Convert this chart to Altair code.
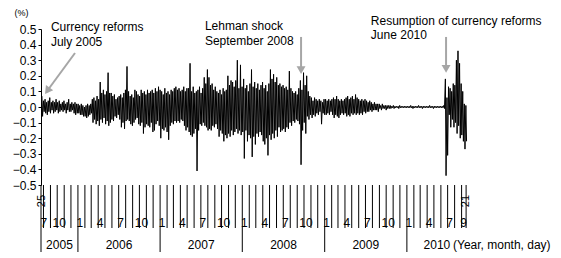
import altair as alt
import pandas as pd

# ---- weekly high / low of the daily change (%) ----
hi_2005 = [0.07, 0.04, 0.05, 0.03, 0.04, 0.06, 0.03, 0.04, 0.03, 0.05, 0.03, 0.04,
           0.02, 0.03, 0.04, 0.02, 0.03, 0.05, 0.02, 0.03, 0.02, 0.03, 0.02]
lo_2005 = [-0.06, -0.03, -0.04, -0.05, -0.03, -0.04, -0.02, -0.04, -0.03, -0.02, -0.04, -0.03,
           -0.02, -0.03, -0.02, -0.04, -0.02, -0.03, -0.03, -0.02, -0.04, -0.05, -0.04]

hi_2006 = [0.02, 0.01, 0.02, 0.01, 0.00, 0.01, 0.02, 0.01, 0.02,
           0.05, 0.06, 0.04, 0.07, 0.05, 0.16, 0.09, 0.11, 0.08, 0.10, 0.22, 0.09,
           0.09, 0.07, 0.08, 0.05, 0.06, 0.07, 0.08, 0.06, 0.09, 0.11, 0.26, 0.10,
           0.07, 0.08, 0.06, 0.11, 0.10, 0.08, 0.07, 0.11, 0.09, 0.10, 0.08, 0.11,
           0.09, 0.10, 0.11, 0.09, 0.12, 0.10, 0.13]
lo_2006 = [-0.04, -0.05, -0.05, -0.06, -0.06, -0.07, -0.06, -0.05, -0.04,
           -0.10, -0.08, -0.11, -0.09, -0.12, -0.08, -0.10, -0.07, -0.11, -0.09, -0.12, -0.10,
           -0.08, -0.09, -0.06, -0.07, -0.05, -0.08, -0.13, -0.10, -0.14, -0.09, -0.08, -0.09,
           -0.11, -0.12, -0.10, -0.08, -0.07, -0.11, -0.12, -0.10, -0.17, -0.13, -0.11, -0.12,
           -0.13, -0.10, -0.16, -0.15, -0.11, -0.09, -0.12]

hi_2007 = [0.11, 0.10, 0.08, 0.12, 0.09, 0.10, 0.08, 0.11, 0.10, 0.12, 0.13, 0.11,
           0.12, 0.10, 0.11, 0.13, 0.10, 0.12, 0.12, 0.28, 0.10, 0.13, 0.09, 0.10,
           0.11, 0.13, 0.09, 0.12, 0.19, 0.15, 0.24, 0.19, 0.14, 0.15, 0.11, 0.13,
           0.10, 0.09, 0.11, 0.08, 0.12, 0.10, 0.11, 0.20, 0.14, 0.17, 0.16, 0.13,
           0.17, 0.30, 0.12, 0.27, 0.13]
lo_2007 = [-0.20, -0.14, -0.15, -0.13, -0.16, -0.21, -0.12, -0.10, -0.11, -0.09, -0.10, -0.09,
           -0.10, -0.08, -0.09, -0.12, -0.15, -0.13, -0.16, -0.18, -0.19, -0.17, -0.14, -0.41,
           -0.15, -0.11, -0.12, -0.10, -0.12, -0.13, -0.15, -0.14, -0.15, -0.12, -0.13, -0.11,
           -0.14, -0.19, -0.15, -0.17, -0.22, -0.18, -0.20, -0.17, -0.19, -0.15, -0.18, -0.16,
           -0.14, -0.17, -0.15, -0.18, -0.16]

hi_2008 = [0.18, 0.12, 0.14, 0.10, 0.15, 0.24, 0.13, 0.16, 0.12, 0.15, 0.11, 0.14,
           0.16, 0.12, 0.14, 0.10, 0.15, 0.24, 0.18, 0.21, 0.16, 0.19, 0.14, 0.15,
           0.13, 0.14, 0.12, 0.13, 0.11, 0.23, 0.12, 0.10, 0.09, 0.10, 0.08, 0.12,
           0.17, 0.11, 0.22, 0.14, 0.20, 0.10, 0.07, 0.06, 0.04, 0.06, 0.05, 0.04,
           0.05, 0.04, 0.03, 0.05]
lo_2008 = [-0.33, -0.15, -0.22, -0.18, -0.20, -0.32, -0.19, -0.24, -0.17, -0.19, -0.16, -0.18,
           -0.22, -0.24, -0.20, -0.31, -0.18, -0.21, -0.17, -0.20, -0.15, -0.19, -0.13, -0.16,
           -0.15, -0.14, -0.16, -0.13, -0.14, -0.10, -0.12, -0.09, -0.10, -0.08, -0.09, -0.11,
           -0.37, -0.15, -0.10, -0.17, -0.06, -0.08, -0.05, -0.07, -0.05, -0.06, -0.04, -0.05,
           -0.03, -0.11, -0.04, -0.05]

hi_2009 = [0.05, 0.04, 0.05, 0.04, 0.05, 0.06, 0.05, 0.07, 0.05, 0.04, 0.05, 0.04,
           0.05, 0.06, 0.07, 0.05, 0.06, 0.07, 0.05, 0.08, 0.06, 0.05, 0.04, 0.05,
           0.04, 0.05, 0.04, 0.03, 0.04, 0.03, 0.02, 0.03, 0.02, 0.02, 0.02, 0.01,
           0.02, 0.01, 0.01, 0.01, 0.01, 0.01, 0.005, 0.01, 0.005, 0.005, 0.005, 0.01,
           0.005, 0.005, 0.005, 0.005]
lo_2009 = [-0.05, -0.04, -0.05, -0.03, -0.05, -0.07, -0.05, -0.06, -0.07, -0.05, -0.04, -0.05,
           -0.04, -0.06, -0.05, -0.06, -0.04, -0.05, -0.04, -0.05, -0.04, -0.05, -0.04, -0.05,
           -0.03, -0.04, -0.03, -0.03, -0.02, -0.03, -0.02, -0.02, -0.02, -0.03, -0.01, -0.02,
           -0.01, -0.01, -0.02, -0.01, -0.01, -0.01, -0.005, -0.01, -0.005, -0.005, -0.01, -0.005,
           -0.005, -0.005, -0.005, -0.005]

hi_2010 = [0.005, 0.005, 0.01, 0.005, 0.005, 0.005, 0.005, 0.01, 0.005, 0.005, 0.005, 0.005,
           0.005, 0.005, 0.01, 0.005, 0.005, 0.005, 0.005, 0.005, 0.005, 0.005, 0.005,
           0.01, 0.18, 0.06, 0.13, 0.12, 0.10, 0.15, 0.14, 0.30, 0.36, 0.28, 0.15, 0.10, 0.02, 0.01]
lo_2010 = [-0.005, -0.005, -0.005, -0.01, -0.005, -0.005, -0.005, -0.005, -0.005, -0.01, -0.005, -0.005,
           -0.005, -0.005, -0.005, -0.005, -0.01, -0.005, -0.005, -0.005, -0.005, -0.005, -0.005,
           -0.01, -0.44, -0.31, -0.05, -0.13, -0.08, -0.13, -0.10, -0.17, -0.12, -0.20, -0.18, -0.22, -0.27, -0.22]

y_ticks = [-0.5, -0.4, -0.3, -0.2, -0.1, 0.0, 0.1, 0.2, 0.3, 0.4, 0.5]
label_months = [1, 4, 7, 10]
first_day_label = "25"
last_day_label = "21"
year_names = ["2005", "2006", "2007", "2008", "2009", "2010"]

ann_texts = ["Currency reforms", "July 2005", "Lehman shock", "September 2008",
             "Resumption of currency reforms", "June 2010"]

# ---- build tables ----
hi = hi_2005 + hi_2006 + hi_2007 + hi_2008 + hi_2009 + hi_2010
lo = lo_2005 + lo_2006 + lo_2007 + lo_2008 + lo_2009 + lo_2010
assert len(hi) == len(lo) == 270
weeks = pd.date_range("2005-07-25", periods=len(hi), freq="7D")
rows = []
for d, h, l in zip(weeks, hi, lo):
    rows.append({"date": d, "value": h})
    rows.append({"date": d + pd.Timedelta(days=3), "value": l})
series = pd.DataFrame(rows)

first_day = pd.Timestamp("2005-07-25")
last_day = pd.Timestamp("2010-09-21")
axis_start = pd.Timestamp("2005-07-21")
axis_end = pd.Timestamp("2010-09-25")

month_starts = pd.date_range("2005-08-01", "2010-09-01", freq="MS")
short_ticks = pd.DataFrame({"date": [m for m in month_starts if m.month != 1] + [last_day]})
year_starts = [pd.Timestamp(f"{y}-01-01") for y in range(2006, 2011)]
long_ticks = pd.DataFrame({"date": [axis_start] + year_starts})

mlab = [(first_day, "7")] + [(m, str(m.month)) for m in month_starts if m.month in label_months]
mlab.append((pd.Timestamp("2010-09-01"), "9"))
month_labels = pd.DataFrame(mlab, columns=["date", "text"])

bounds = [axis_start] + year_starts + [axis_end]
year_labels = pd.DataFrame({
    "date": [bounds[i] + (bounds[i + 1] - bounds[i]) / 2 for i in range(len(year_names))],
    "text": year_names,
})
day_labels = pd.DataFrame({"date": [first_day, last_day], "text": [first_day_label, last_day_label]})

ann = pd.DataFrame({
    "date": pd.to_datetime(["2005-09-03", "2005-09-03", "2007-07-19", "2007-07-19",
                            "2009-07-25", "2009-07-25"]),
    "value": [0.485, 0.391, 0.492, 0.396, 0.524, 0.438],
    "text": ann_texts,
})
arrows = pd.DataFrame({
    "date": pd.to_datetime(["2005-12-19", "2008-09-18", "2010-06-24"]),
    "value": [0.346, 0.449, 0.449],
    "date2": pd.to_datetime(["2005-08-18", "2008-09-18", "2010-06-24"]),
    "value2": [0.104, 0.237, 0.244],
    "angle": [35.5, 0.0, 0.0],
})

# ---- chart ----
FONT = "Liberation Sans"
H = 156
xscale = alt.Scale(domain=[alt.DateTime(year=2005, month=7, date=21),
                           alt.DateTime(year=2010, month=9, date=25)])
yscale = alt.Scale(domain=[-0.5, 0.5], nice=False, zero=False)
yaxis = alt.Axis(
    values=y_ticks, format=".1f", tickSize=3, labelPadding=2, grid=False,
    domainColor="black", tickColor="black", labelColor="black",
    labelFont=FONT, labelFontSize=12, labelOverlap=False, labelFlush=False,
    title="(%)", titleAngle=0, titleX=-20, titleY=-17, titleAlign="center",
    titleBaseline="middle", titleFont=FONT, titleFontSize=9,
    titleFontWeight="normal", titleColor="black")


def X(f="date"):
    return alt.X(f"{f}:T", scale=xscale, axis=None)


def Y(f="value"):
    return alt.Y(f"{f}:Q", scale=yscale, axis=yaxis)


line = alt.Chart(series).mark_line(color="black", strokeWidth=1).encode(x=X(), y=Y())

tick_short = alt.Chart(short_ticks).mark_rule(color="black", strokeWidth=1).encode(
    x=X(), y=alt.value(H), y2=alt.value(H + 43))
tick_long = alt.Chart(long_ticks).mark_rule(color="black", strokeWidth=1).encode(
    x=X(), y=alt.value(H), y2=alt.value(H + 67))

m_text = alt.Chart(month_labels).mark_text(
    font=FONT, fontSize=12, color="black", align="center", baseline="middle", dx=2
).encode(x=X(), y=alt.value(H + 38), text="text:N")
y_text = alt.Chart(year_labels).mark_text(
    font=FONT, fontSize=12, color="black", align="center", baseline="middle"
).encode(x=X(), y=alt.value(H + 60), text="text:N")
d_text = alt.Chart(day_labels).mark_text(
    font=FONT, fontSize=11, color="black", align="center", baseline="middle", angle=270
).encode(x=X(), y=alt.value(H + 16), text="text:N")
unit_text = alt.Chart(pd.DataFrame({"text": ["(Year, month, day)"]})).mark_text(
    font=FONT, fontSize=12, color="black", align="left", baseline="middle"
).encode(x=alt.value(412), y=alt.value(H + 60), text="text:N")

ann_text = alt.Chart(ann).mark_text(
    font=FONT, fontSize=12, color="black", align="left", baseline="alphabetic"
).encode(x=X(), y=Y(), text="text:N")

arrow_line = alt.Chart(arrows).mark_rule(color="#a6a6a6", strokeWidth=2).encode(
    x=X(), y=Y(), x2=alt.X2("date2:T"), y2=alt.Y2("value2:Q"))
arrow_head = alt.Chart(arrows).mark_point(
    shape="triangle-down", filled=True, color="#a6a6a6", size=80, opacity=1
).encode(x=X("date2"), y=Y("value2"), angle=alt.Angle("angle:Q", scale=None))

chart = alt.layer(
    tick_short, tick_long, line, m_text, y_text, d_text, unit_text,
    ann_text, arrow_line, arrow_head
).properties(
    width=426, height=H,
    background="white",
    autosize=alt.AutoSizeParams(type="none"),
    padding={"left": 41, "top": 29, "right": 94, "bottom": 73},
).configure_view(strokeOpacity=0)

chart.save("out.html", embed_options={"renderer": "svg", "actions": False})
